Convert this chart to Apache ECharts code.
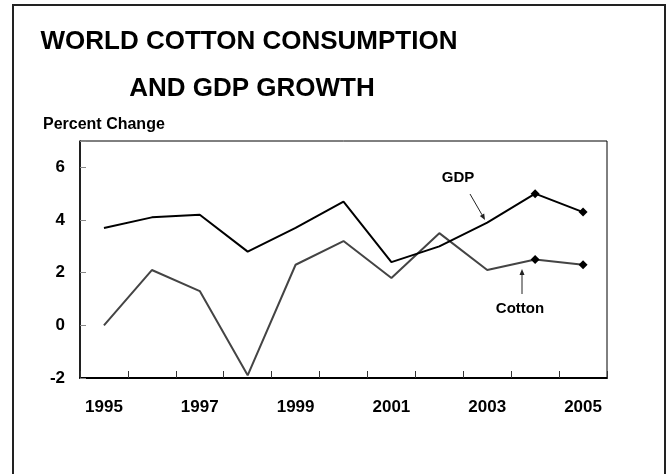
<!DOCTYPE html>
<html>
<head>
<meta charset="utf-8">
<script src="https://cdn.jsdelivr.net/npm/echarts@6/dist/echarts.min.js"></script>
<style>
  html, body { margin: 0; padding: 0; background: #fff; }
  #chart { width: 667px; height: 474px; }
</style>
</head>
<body>
<div id="chart"></div>
<script>
// Annual percent change, world GDP vs. world cotton mill use
const years = ['1995', '1996', '1997', '1998', '1999', '2000', '2001', '2002', '2003', '2004', '2005'];
const gdpGrowth = [3.7, 4.1, 4.2, 2.8, 3.7, 4.7, 2.4, 3.0, 3.9, 5.0, 4.3];
const cottonGrowth = [0.0, 2.1, 1.3, -1.9, 2.3, 3.2, 1.8, 3.5, 2.1, 2.5, 2.3];
// projected years carry a diamond marker
const projectedYears = ['2004', '2005'];
const yTickLabels = [-2, 0, 2, 4, 6];

const FONT = 'Arial, "Liberation Sans", Helvetica, sans-serif';

const chart = echarts.init(document.getElementById('chart'));

function markerSize(value, params) {
  return projectedYears.indexOf(years[params.dataIndex]) >= 0 ? 9 : 0;
}

function arrow(x1, y1, x2, y2) {
  const ang = Math.atan2(y2 - y1, x2 - x1);
  const len = 6, half = 2.5;
  const bx = x2 - len * Math.cos(ang), by = y2 - len * Math.sin(ang);
  const px = -Math.sin(ang) * half, py = Math.cos(ang) * half;
  return [
    { type: 'line', shape: { x1: x1, y1: y1, x2: bx, y2: by }, style: { stroke: '#222', lineWidth: 1 } },
    { type: 'polygon', shape: { points: [[x2, y2], [bx + px, by + py], [bx - px, by - py]] }, style: { fill: '#222' } }
  ];
}

const titleStyle = { fontFamily: FONT, fontSize: 26, fontWeight: 'bold', color: '#000', lineHeight: 47 };

chart.setOption({
  animation: false,
  backgroundColor: '#fff',
  title: [
    {
      text: 'WORLD COTTON CONSUMPTION',
      left: 249, top: 18, padding: 0,
      textAlign: 'center',
      textStyle: titleStyle
    },
    {
      text: 'AND GDP GROWTH',
      left: 252, top: 65, padding: 0,
      textAlign: 'center',
      textStyle: titleStyle
    },
    {
      text: 'Percent Change',
      left: 43, top: 117, padding: 0,
      textStyle: { fontFamily: FONT, fontSize: 16, fontWeight: 'bold', color: '#000' }
    }
  ],
  grid: {
    left: 80, right: 60, top: 141, bottom: 96,
    show: true, borderColor: '#000', borderWidth: 1, backgroundColor: 'transparent'
  },
  xAxis: {
    type: 'category',
    data: years,
    boundaryGap: true,
    axisLine: { show: true, onZero: false, lineStyle: { color: '#000', width: 2 } },
    axisTick: { show: true, inside: true, length: 7, interval: 0, lineStyle: { color: '#333', width: 1 } },
    axisLabel: {
      interval: 1, margin: 21,
      fontFamily: FONT, fontSize: 17, fontWeight: 'bold', color: '#000'
    },
    splitLine: { show: false }
  },
  yAxis: {
    type: 'value',
    min: -2, max: 7, interval: 2,
    axisLine: { show: true, lineStyle: { color: '#000', width: 1.5 } },
    axisTick: { show: true, inside: true, length: 6, lineStyle: { color: '#888', width: 1 } },
    axisLabel: {
      margin: 15,
      fontFamily: FONT, fontSize: 17, fontWeight: 'bold', color: '#000',
      formatter: function (v) { return yTickLabels.indexOf(v) >= 0 ? String(v) : ''; }
    },
    splitLine: { show: false }
  },
  series: [
    {
      name: 'GDP',
      type: 'line',
      data: gdpGrowth,
      symbol: 'diamond',
      symbolSize: markerSize,
      showSymbol: true,
      lineStyle: { color: '#000', width: 2 },
      itemStyle: { color: '#000' },
      z: 3
    },
    {
      name: 'Cotton',
      type: 'line',
      data: cottonGrowth,
      symbol: 'diamond',
      symbolSize: markerSize,
      showSymbol: true,
      lineStyle: { color: '#444', width: 2 },
      itemStyle: { color: '#000' },
      z: 2
    }
  ],
  graphic: [
    {
      type: 'rect',
      shape: { x: 13, y: 5, width: 652, height: 480 },
      style: { fill: 'none', stroke: '#222', lineWidth: 2 },
      silent: true
    },
    {
      type: 'text', x: 458, y: 178,
      style: { text: 'GDP', fontFamily: FONT, fontSize: 15, fontWeight: 'bold', fill: '#000', align: 'center', verticalAlign: 'middle' }
    },
    {
      type: 'text', x: 520, y: 309,
      style: { text: 'Cotton', fontFamily: FONT, fontSize: 15, fontWeight: 'bold', fill: '#000', align: 'center', verticalAlign: 'middle' }
    }
  ].concat(arrow(470, 194, 485, 220)).concat(arrow(522, 294, 522, 269))
});
</script>
</body>
</html>
